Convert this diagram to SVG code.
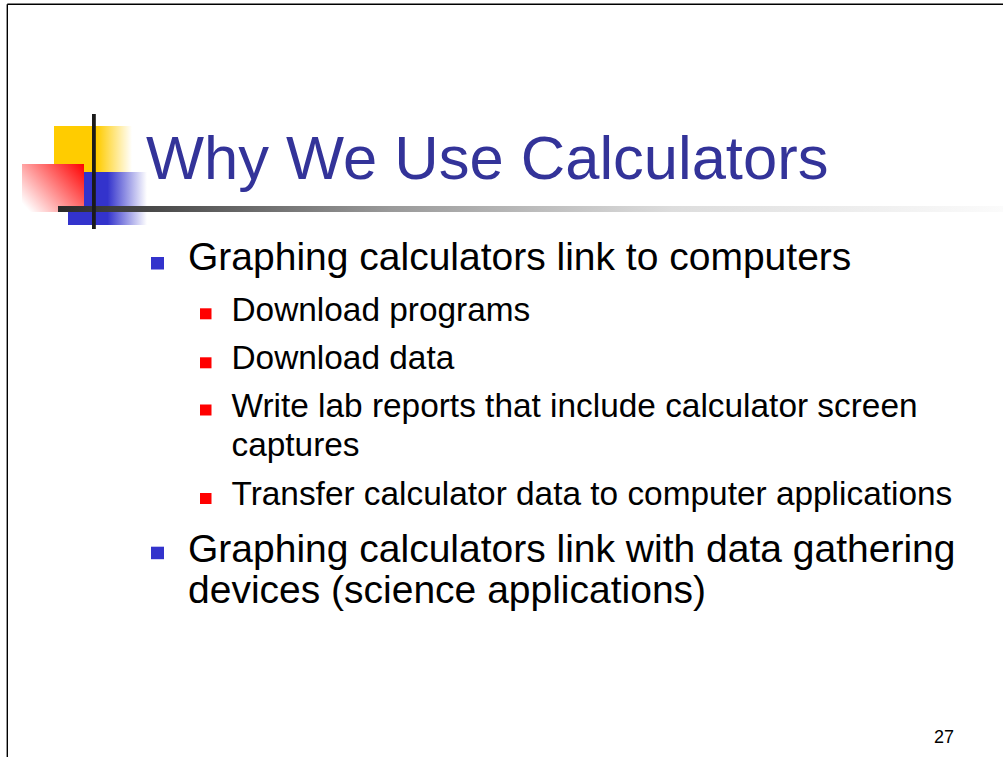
<svg xmlns="http://www.w3.org/2000/svg" width="1003" height="757" viewBox="0 0 1003 757">
<defs>
<linearGradient id="gy" x1="54" y1="0" x2="132" y2="0" gradientUnits="userSpaceOnUse">
<stop offset="0" stop-color="#FFCC00"/><stop offset="0.55" stop-color="#FFCC00"/><stop offset="1" stop-color="#FFCC00" stop-opacity="0"/>
</linearGradient>
<linearGradient id="gb" x1="68" y1="0" x2="147" y2="0" gradientUnits="userSpaceOnUse">
<stop offset="0" stop-color="#3333CC"/><stop offset="0.5" stop-color="#3333CC"/><stop offset="1" stop-color="#3333CC" stop-opacity="0"/>
</linearGradient>
<linearGradient id="gr" x1="84" y1="164" x2="30" y2="212" gradientUnits="userSpaceOnUse">
<stop offset="0" stop-color="#FF0000"/><stop offset="1" stop-color="#FFFFFF"/>
</linearGradient>
<linearGradient id="gbar" x1="58" y1="0" x2="1003" y2="0" gradientUnits="userSpaceOnUse">
<stop offset="0" stop-color="#2a2a2a"/><stop offset="0.35" stop-color="#999999"/><stop offset="0.65" stop-color="#dddddd"/><stop offset="1" stop-color="#fbfbfb"/>
</linearGradient>
<style>
.t{font-family:"Liberation Sans",Arial,sans-serif;fill:#000}
.l1{font-size:39px}
.l2{font-size:33.4px}
.b1{fill:#3333CC}
.b2{fill:#FF0000}
</style>
</defs>
<g id="frame">
<line x1="7.3" y1="4.3" x2="1003" y2="4.3" stroke="#000" stroke-width="1.4"/>
<line x1="7.3" y1="4.3" x2="7.3" y2="757" stroke="#000" stroke-width="1.4"/>
</g>
<g id="logo">
<rect x="54" y="126" width="78" height="46" fill="url(#gy)"/>
<rect x="68" y="172" width="79" height="53" fill="url(#gb)"/>
<rect x="22" y="164" width="62" height="48" fill="url(#gr)"/>
<rect x="58" y="206" width="945" height="6" fill="url(#gbar)"/>
<rect x="92" y="114" width="3.8" height="115" fill="#1a1a1a"/>
</g>
<g id="title">
<text x="146" y="179" style="font-family:'Liberation Sans',Arial,sans-serif;font-size:61.5px;fill:#333399">Why We Use Calculators</text>
</g>
<g id="bullets">
<rect class="b1" x="151" y="257" width="13" height="12.5"/>
<text class="t l1" x="188" y="269.5">Graphing calculators link to computers</text>
<rect class="b2" x="200" y="308.3" width="11.5" height="11"/>
<text class="t l2" x="231.5" y="320.5">Download programs</text>
<rect class="b2" x="200" y="357.3" width="11.5" height="11"/>
<text class="t l2" x="231.5" y="369">Download data</text>
<rect class="b2" x="200" y="404.5" width="11.5" height="11"/>
<text class="t l2" x="231.5" y="416.5">Write lab reports that include calculator screen</text>
<text class="t l2" x="231.5" y="455.5">captures</text>
<rect class="b2" x="200" y="493" width="11.5" height="11"/>
<text class="t l2" x="231.5" y="504.5">Transfer calculator data to computer applications</text>
<rect class="b1" x="151" y="546.7" width="13" height="12.5"/>
<text class="t l1" x="188" y="561.5">Graphing calculators link with data gathering</text>
<text class="t l1" x="188" y="602.5">devices (science applications)</text>
</g>
<g id="page">
<text class="t" x="934" y="742.5" style="font-size:18px">27</text>
</g>
</svg>
